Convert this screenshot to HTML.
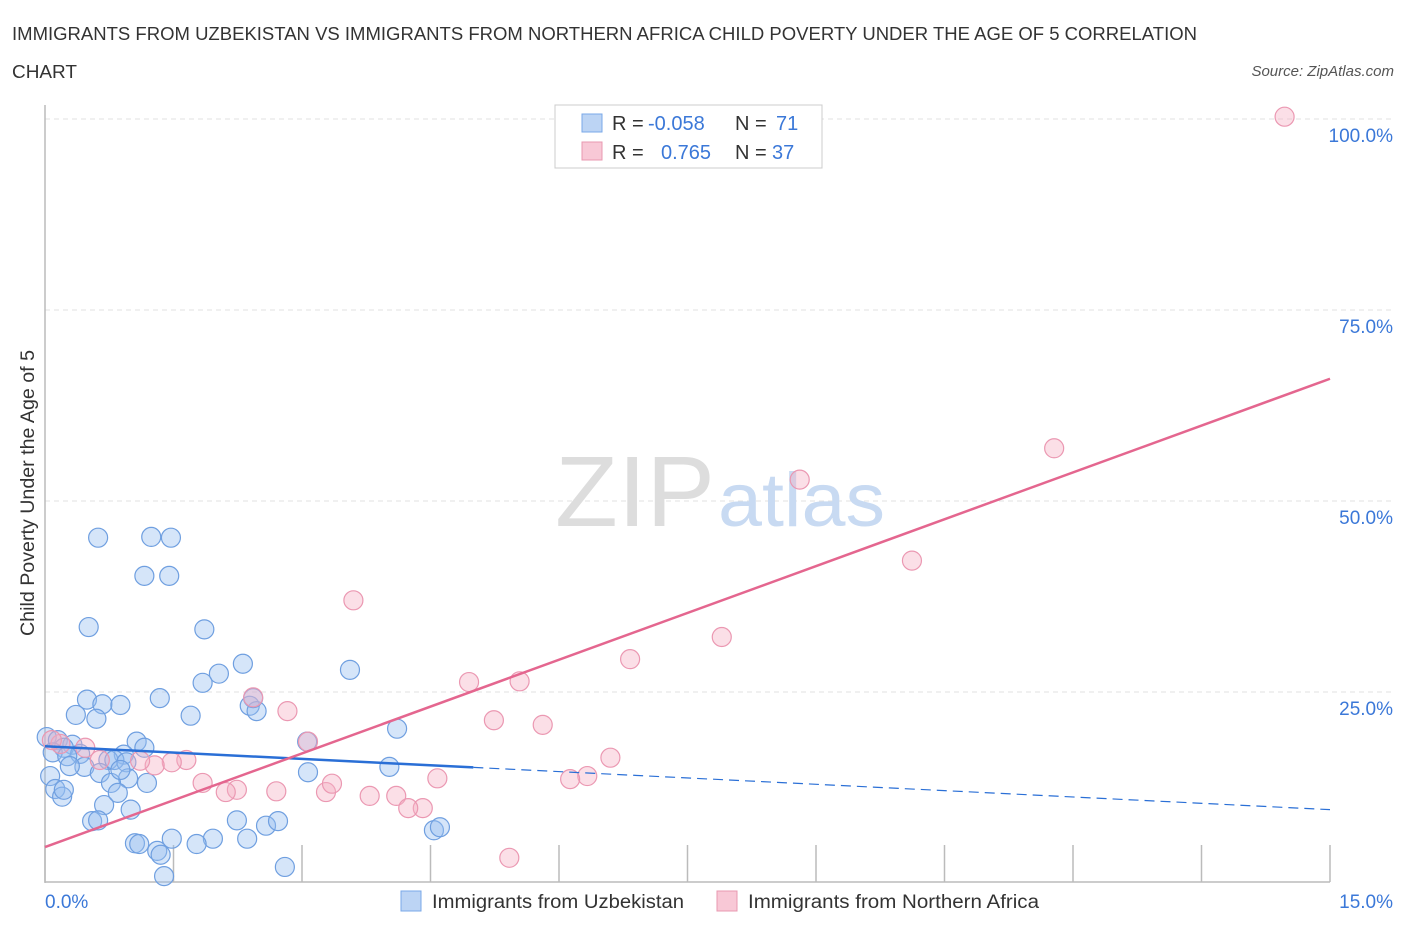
<!DOCTYPE html>
<html><head><meta charset="utf-8"><style>
body{margin:0;background:#fff;font-family:"Liberation Sans",sans-serif;}
svg text{font-family:"Liberation Sans",sans-serif;}
</style></head><body>
<svg width="1406" height="930">
<text x="12" y="40" font-size="18" fill="#333" textLength="1185" lengthAdjust="spacingAndGlyphs">IMMIGRANTS FROM UZBEKISTAN VS IMMIGRANTS FROM NORTHERN AFRICA CHILD POVERTY UNDER THE AGE OF 5 CORRELATION</text>
<text x="12" y="78" font-size="18" fill="#333" textLength="65" lengthAdjust="spacingAndGlyphs">CHART</text>
<text x="1394" y="76" font-size="15" fill="#555" font-style="italic" text-anchor="end">Source: ZipAtlas.com</text>
<g id="grid"></g>
<text x="555" y="526" font-size="100" fill="#ddd" font-family="Liberation Serif" textLength="160" lengthAdjust="spacingAndGlyphs">ZIP</text>
<text x="718" y="526" font-size="76" fill="#c8daf2" textLength="167" lengthAdjust="spacingAndGlyphs">atlas</text>
<line x1="45" y1="105" x2="45" y2="883" stroke="#bbb" stroke-width="1.5"/>
<line x1="45" y1="882" x2="1330" y2="882" stroke="#bbb" stroke-width="1.5"/>
<g id="ticks"></g>
<g id="pts"></g>
<g id="lines"></g>
<text x="34" y="493" font-size="19" fill="#333" text-anchor="middle" textLength="286" lengthAdjust="spacingAndGlyphs" transform="rotate(-90 34 493)">Child Poverty Under the Age of 5</text>
<text x="45" y="908" font-size="19" fill="#3b78d8">0.0%</text>
<text x="1393" y="908" font-size="19" fill="#3b78d8" text-anchor="end">15.0%</text>
<g>
<rect x="555" y="105" width="267" height="63" fill="#fff" stroke="#ccc"/>
<rect x="582" y="114" width="20" height="18" fill="#bcd4f4" stroke="#7aa8e8"/>
<rect x="582" y="142" width="20" height="18" fill="#f8c8d6" stroke="#e898b0"/>
<text x="612" y="130" font-size="20" fill="#333">R = <tspan x="648" fill="#3b78d8">-0.058</tspan><tspan x="735">N = </tspan><tspan x="776" fill="#3b78d8">71</tspan></text>
<text x="612" y="159" font-size="20" fill="#333">R = <tspan x="661" fill="#3b78d8">0.765</tspan><tspan x="735">N = </tspan><tspan x="772" fill="#3b78d8">37</tspan></text>
</g>
<g>
<rect x="401" y="891" width="20" height="20" fill="#bcd4f4" stroke="#7aa8e8"/>
<text x="432" y="908" font-size="19" fill="#333" textLength="252" lengthAdjust="spacingAndGlyphs">Immigrants from Uzbekistan</text>
<rect x="717" y="891" width="20" height="20" fill="#f8c8d6" stroke="#e898b0"/>
<text x="748" y="908" font-size="19" fill="#333" textLength="291" lengthAdjust="spacingAndGlyphs">Immigrants from Northern Africa</text>
</g>
</svg>
<script>
const yTicks=[25,50,75,100];
const yTickLabels=["25.0%","50.0%","75.0%","100.0%"];
const xTicks=[0,1.5,3,4.5,6,7.5,9,10.5,12,13.5,15];
const blueX=[0.62,1.24,1.47,1.16,1.45,0.51,1.86,3.56,2.31,2.03,1.84,0.49,1.34,0.67,0.88,0.36,0.60,1.70,2.39,2.47,4.11,1.07,1.16,0.92,0.74,0.81,0.95,0.02,0.15,0.32,0.22,0.41,0.09,0.26,0.46,0.29,0.64,0.97,1.19,0.77,0.06,0.12,0.20,0.69,0.85,1.00,0.55,0.62,2.24,2.58,2.72,1.96,2.36,1.48,1.77,1.05,1.10,1.31,1.35,1.39,2.80,4.54,4.61,3.07,4.02,3.06,2.43,0.22,0.88];
const blueY=[45.2,45.3,45.2,40.2,40.2,33.5,33.2,27.9,28.7,27.4,26.2,24.0,24.2,23.4,23.3,22.0,21.5,21.9,23.2,22.5,20.2,18.5,17.7,16.8,16.1,16.1,15.8,19.1,18.7,18.1,17.7,16.9,17.1,16.6,15.2,15.3,14.4,13.7,13.1,13.1,14.0,12.3,11.3,10.2,11.8,9.6,8.1,8.2,8.2,7.5,8.1,5.8,5.8,5.8,5.1,5.2,5.1,4.2,3.7,0.9,2.1,6.9,7.3,14.5,15.2,18.5,24.2,12.2,14.8];
const pinkX=[14.47,11.78,8.81,10.12,7.90,6.83,3.60,4.95,5.54,2.83,2.43,5.24,5.81,3.07,6.60,6.33,6.13,4.58,4.10,4.41,4.24,3.28,3.35,3.79,1.84,2.24,2.11,2.70,5.42,1.65,1.48,1.28,1.11,0.64,0.47,0.18,0.08];
const pinkY=[100.3,56.9,52.8,42.2,32.2,29.3,37.0,26.3,26.4,22.5,24.3,21.3,20.7,18.5,16.4,14.0,13.6,13.7,11.4,9.8,9.8,11.9,13.0,11.4,13.1,12.2,11.9,12.0,3.3,16.1,15.8,15.4,16.0,16.1,17.7,18.2,18.7];
const blueTrend=[17.9,9.6]; const blueSolidEnd=5.0;
const pinkTrend=[4.7,66.0];
const NS="http://www.w3.org/2000/svg";
const sx=v=>45+v/15*1285;
const sy=v=>883-v/100*764;
function mk(tag,attrs,parent){const e=document.createElementNS(NS,tag);for(const k in attrs)e.setAttribute(k,attrs[k]);document.getElementById(parent).appendChild(e);return e;}
yTicks.forEach((t,i)=>{
 const l=mk('line',{x1:45,x2:1395,y1:sy(t),y2:sy(t),stroke:'#e2e2e2','stroke-dasharray':'5,4'},'grid');
 
 
 const tx=mk('text',{x:1393,y:sy(t)+23,'font-size':19,fill:'#3b78d8','text-anchor':'end'},'grid');
 tx.textContent=yTickLabels[i];
 
 
});
xTicks.forEach(t=>{
 const l=mk('line',{x1:sx(t),x2:sx(t),y1:845,y2:882,stroke:'#bbb','stroke-width':1.5},'ticks');
 
 
});
blueX.forEach((x,i)=>{
 const c=mk('circle',{cx:sx(x),cy:sy(blueY[i]),r:9.5,fill:'rgba(150,190,240,0.4)',stroke:'#6f9fe0','stroke-width':1.2},'pts');
 
 
});
pinkX.forEach((x,i)=>{
 const c=mk('circle',{cx:sx(x),cy:sy(pinkY[i]),r:9.5,fill:'rgba(245,175,195,0.4)',stroke:'#eb98b2','stroke-width':1.2},'pts');
 
 
});
const by=x=>blueTrend[0]+(blueTrend[1]-blueTrend[0])*x/15;
let l1=mk('line',{x1:sx(0),y1:sy(by(0)),x2:sx(blueSolidEnd),y2:sy(by(blueSolidEnd)),stroke:'#2a6fd6','stroke-width':2.5},'lines');


let l2=mk('line',{x1:sx(blueSolidEnd),y1:sy(by(blueSolidEnd)),x2:sx(15),y2:sy(by(15)),stroke:'#2a6fd6','stroke-width':1.2,'stroke-dasharray':'10,6'},'lines');


let l3=mk('line',{x1:sx(0),y1:sy(pinkTrend[0]),x2:sx(15),y2:sy(pinkTrend[1]),stroke:'#e4668f','stroke-width':2.5},'lines');


</script>
</body></html>
